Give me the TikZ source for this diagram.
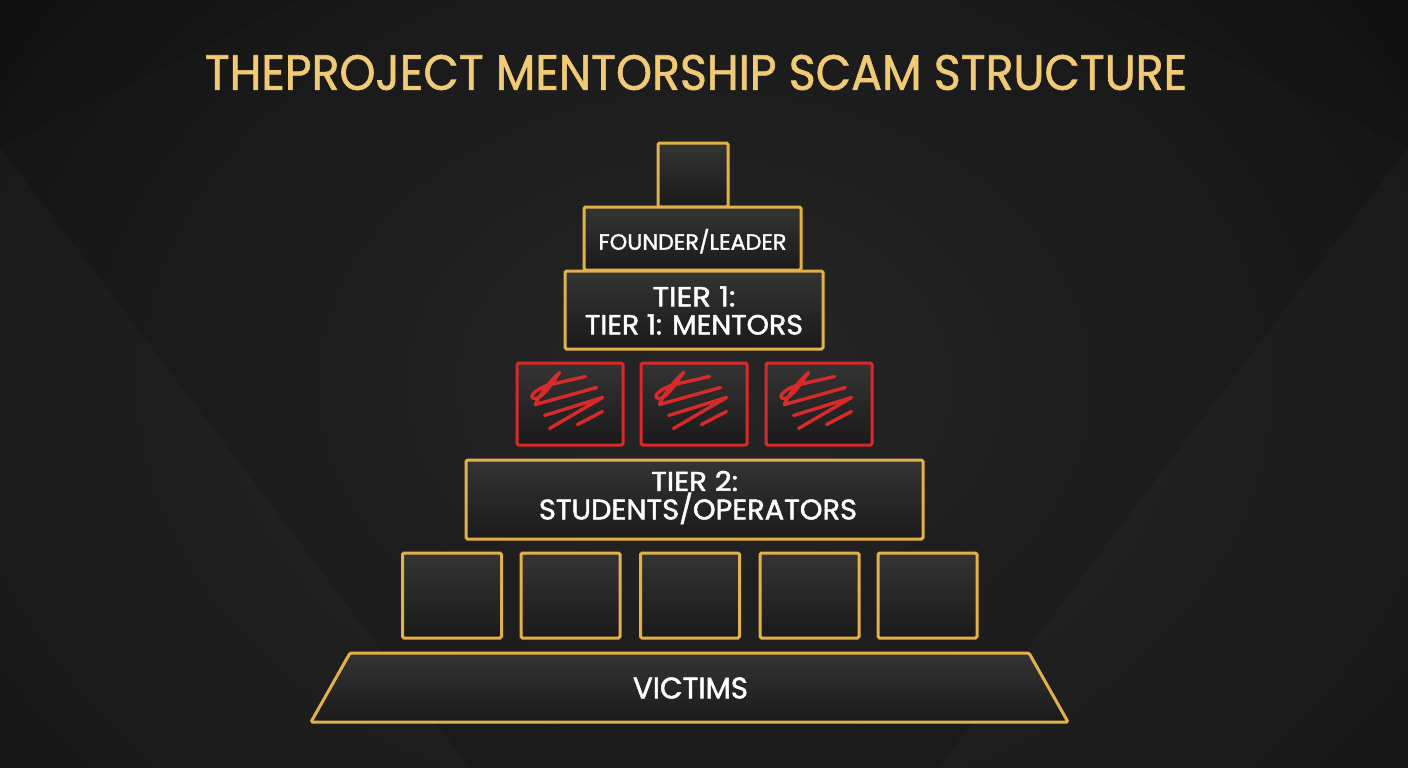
\documentclass[tikz,border=0pt]{standalone}
\usepackage{fontspec}
\setmainfont{Poppins}
\newfontfamily\titlefont{Poppins}[FakeBold=1.2]
\newfontfamily\labelfont{Poppins}[FakeBold=1.6]
\usetikzlibrary{shapes.geometric}
\definecolor{bgdark}{HTML}{121212}
\definecolor{bgmid}{HTML}{262626}
\definecolor{gold}{HTML}{E2B24A}
\definecolor{titlegold}{HTML}{F0CA74}
\definecolor{boxtop}{HTML}{343434}
\definecolor{boxbot}{HTML}{1A1A1A}
\definecolor{redline}{HTML}{D82A2A}
\newcommand{\fitt}[3]{\resizebox{#1pt}{#2pt}{#3}}
\newcommand{\slsh}{\smash{/}}
\tikzset{
  goldbox/.style={draw=gold, line width=3pt, rounded corners=1.5pt, top color=boxtop, bottom color=boxbot, inner sep=0pt},
  redbox/.style={draw=redline, line width=3pt, rounded corners=1.5pt, top color=boxtop, bottom color=boxbot, inner sep=0pt, minimum width=106pt, minimum height=82pt},
  slotbox/.style={goldbox, minimum width=99pt, minimum height=85pt},
  scribble/.style={draw=redline, line width=3.4pt, line cap=round, line join=round},
  lbl/.style={text=white, inner sep=0pt, align=center, font=\labelfont},
}
\begin{document}
\begin{tikzpicture}[x=1pt,y=-1pt]
\useasboundingbox (0,0) rectangle (1408,768);
% background
\shade[inner color=bgmid, outer color=bgdark] (-200,-300) rectangle (1608,1068);
\fill[black, opacity=0.12] (0,0) -- (60,0) -- (0,90) -- cycle;
\fill[black, opacity=0.12] (1408,0) -- (1348,0) -- (1408,90) -- cycle;
\fill[black, opacity=0.08] (0,90) -- (60,0) -- (300,0) -- (0,147) -- cycle;
\fill[black, opacity=0.08] (1408,90) -- (1348,0) -- (1108,0) -- (1408,147) -- cycle;
\fill[white, opacity=0.02] (0,147) -- (470,768) -- (0,768) -- cycle;
\fill[white, opacity=0.02] (1408,147) -- (938,768) -- (1408,768) -- cycle;
% title
\node[text=titlegold, inner sep=0pt, font=\titlefont] (title) at (696,72.5) {\fitt{982}{35}{THEPROJECT MENTORSHIP SCAM STRUCTURE}};
% top small box
\node[goldbox, minimum width=70pt, minimum height=64pt] (crown) at (693,175) {};
% founder
\node[goldbox, minimum width=217pt, minimum height=63pt] (founder) at (692.5,238.5) {};
\node[lbl] (founderlbl) at (692.5,242) {\fitt{188}{15.5}{FOUNDER\slsh LEADER}};
% tier 1
\node[goldbox, minimum width=258pt, minimum height=78pt] (tier1) at (694,310) {};
\node[lbl] (tier1a) at (694,296.5) {\fitt{83}{20}{TIER 1:}};
\node[lbl] (tier1b) at (694,324.5) {\fitt{218}{20}{TIER 1: MENTORS}};
% red boxes
\foreach \i/\cx in {1/570, 2/694, 3/819} {
  \node[redbox] (red\i) at (\cx,404) {};
  \begin{scope}[shift={(red\i.north west)}]
    \draw[scribble] (70,15) -- (35,23) .. controls (20,27) and (12,36) .. (19,37)
      .. controls (27,38) and (39,18) .. (44,11) .. controls (34,20) and (22,36) .. (20,43) -- (81,26);
    \draw[scribble] (29,54) -- (87,36) -- (34,67);
    \draw[scribble] (62,63) -- (87,50);
  \end{scope}
}
% tier 2
\node[goldbox, minimum width=457pt, minimum height=79pt] (tier2) at (694.5,499.5) {};
\node[lbl] (tier2a) at (694.5,481) {\fitt{87}{20}{TIER 2:}};
\node[lbl] (tier2b) at (698,509.5) {\fitt{318}{20}{STUDENTS\slsh OPERATORS}};
% slots
\foreach \i/\cx in {1/452, 2/570.5, 3/690, 4/809.5, 5/927.5} {
  \node[slotbox] (slot\i) at (\cx,595.5) {};
}
% victims
\coordinate (vtl) at (350,653);
\coordinate (vtr) at (1029,653);
\coordinate (vbr) at (1068,722);
\coordinate (vbl) at (311,722);
\draw[goldbox] (vtl) -- (vtr) -- (vbr) -- (vbl) -- cycle;
\node[lbl] (victims) at (690.5,688) {\fitt{115}{21}{VICTIMS}};
\end{tikzpicture}
\end{document}
